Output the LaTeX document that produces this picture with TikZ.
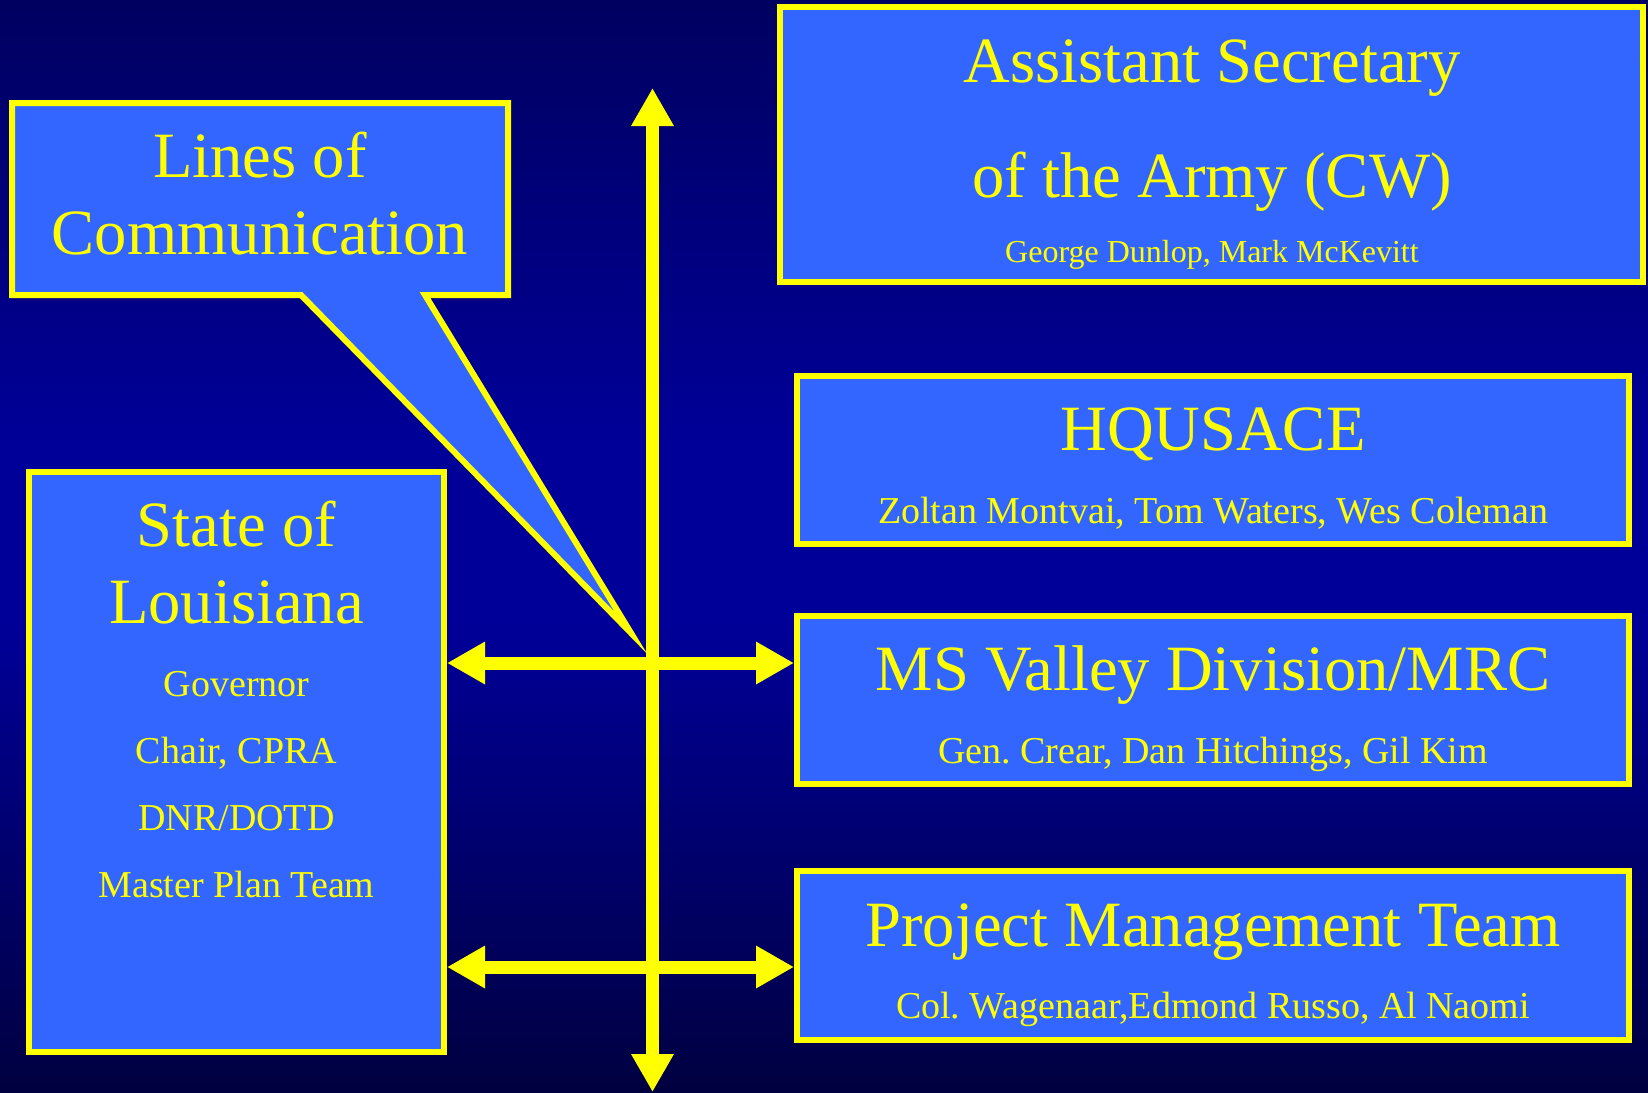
\documentclass[tikz,border=0pt]{standalone}
\usepackage{fontspec}
\setmainfont{Liberation Serif}
\usetikzlibrary{arrows.meta,fit,positioning}
\definecolor{boxblue}{HTML}{3366FF}
\definecolor{lineyellow}{HTML}{FFFF00}
\definecolor{bgtop}{HTML}{000060}
\definecolor{bgmid}{HTML}{000099}
\definecolor{bgbot}{HTML}{000040}
\frenchspacing

\begin{document}
\begin{tikzpicture}[x=0.5pt, y=-0.5pt,
    orgbox/.style={draw=lineyellow, fill=boxblue, line width=3pt, inner sep=0pt},
    titletext/.style={anchor=base, text=lineyellow, font=\fontsize{32.3}{38}\selectfont},
    nametext/.style={anchor=base, text=lineyellow, font=\fontsize{19}{22}\selectfont},
    smalltext/.style={anchor=base, text=lineyellow, font=\fontsize{16}{19}\selectfont},
    commline/.style={draw=lineyellow, line width=6.5pt, {Triangle[length=19pt,width=20pt]}-{Triangle[length=19pt,width=20pt]}}]
    \useasboundingbox (0,0) rectangle (1648,1092);
    % slide background
    \shade[top color=bgtop, bottom color=bgmid] (0,0) rectangle (1648,451);
    \fill[bgmid] (0,450) rectangle (1648,621);
    \shade[top color=bgmid, bottom color=bgbot] (0,620) rectangle (1648,1092);

    % callout
    \node[inner sep=0pt, outer sep=0pt, fit={(12,103) (508,295)}] (loc) {};
    \coordinate (tailL) at (301,295);
    \coordinate (tailR) at (425,295);
    \coordinate (tip) at (631,633);
    \draw[draw=lineyellow, fill=boxblue, line width=3pt, line join=miter] (loc.north west) -- (loc.north east) -- (loc.south east) -- (tailR) -- (tip) -- (tailL) -- (loc.south west) -- cycle;
    \node[titletext] (loct1) at (260,177) {Lines of};
    \node[titletext] (loct2) at (260,254) {Communication};

    % federal side
    \node[orgbox, fit={(780,7) (1643,282)}] (asa) {};
    \node[titletext] (asat1) at (1212,82) {Assistant Secretary};
    \node[titletext] (asat2) at (1212,197) {of the Army (CW)};
    \node[smalltext] (asan) at (1212,262) {George Dunlop, Mark McKevitt};

    \node[orgbox, fit={(797,376) (1629,544)}] (hq) {};
    \node[titletext] (hqt) at (1213,450) {HQUSACE};
    \node[nametext] (hqn) at (1213,523) {Zoltan Montvai, Tom Waters, Wes Coleman};

    \node[orgbox, fit={(797,616) (1629,784)}] (msvd) {};
    \node[titletext] (msvdt) at (1213,690) {MS Valley Division/MRC};
    \node[nametext] (msvdn) at (1213,763) {Gen. Crear, Dan Hitchings, Gil Kim};

    \node[orgbox, fit={(797,871) (1629,1040)}] (pmt) {};
    \node[titletext] (pmtt) at (1213,946) {Project Management Team};
    \node[nametext] (pmtn) at (1213,1018) {Col. Wagenaar,Edmond Russo, Al Naomi};

    % state side
    \node[orgbox, fit={(29,472) (444,1052)}] (louis) {};
    \node[titletext] (louist1) at (236.5,546) {State of};
    \node[titletext] (louist2) at (236.5,623) {Louisiana};
    \node[nametext] (louisn1) at (236.5,696) {Governor};
    \node[nametext] (louisn2) at (236.5,763) {Chair, CPRA};
    \node[nametext] (louisn3) at (236.5,830) {DNR/DOTD};
    \node[nametext] (louisn4) at (236.5,897.5) {Master Plan Team};

    % lines of communication
    \coordinate (ntop) at (652.5,88);
    \coordinate (nbot) at (652.5,1092);
    \coordinate (hubA) at (652.5,663);
    \coordinate (hubB) at (652.5,967);
    \draw[commline] (ntop) -- (nbot);
    \draw[commline] (louis.east |- hubA) -- (msvd.west |- hubA);
    \draw[commline] (louis.east |- hubB) -- (pmt.west |- hubB);
\end{tikzpicture}
\end{document}
